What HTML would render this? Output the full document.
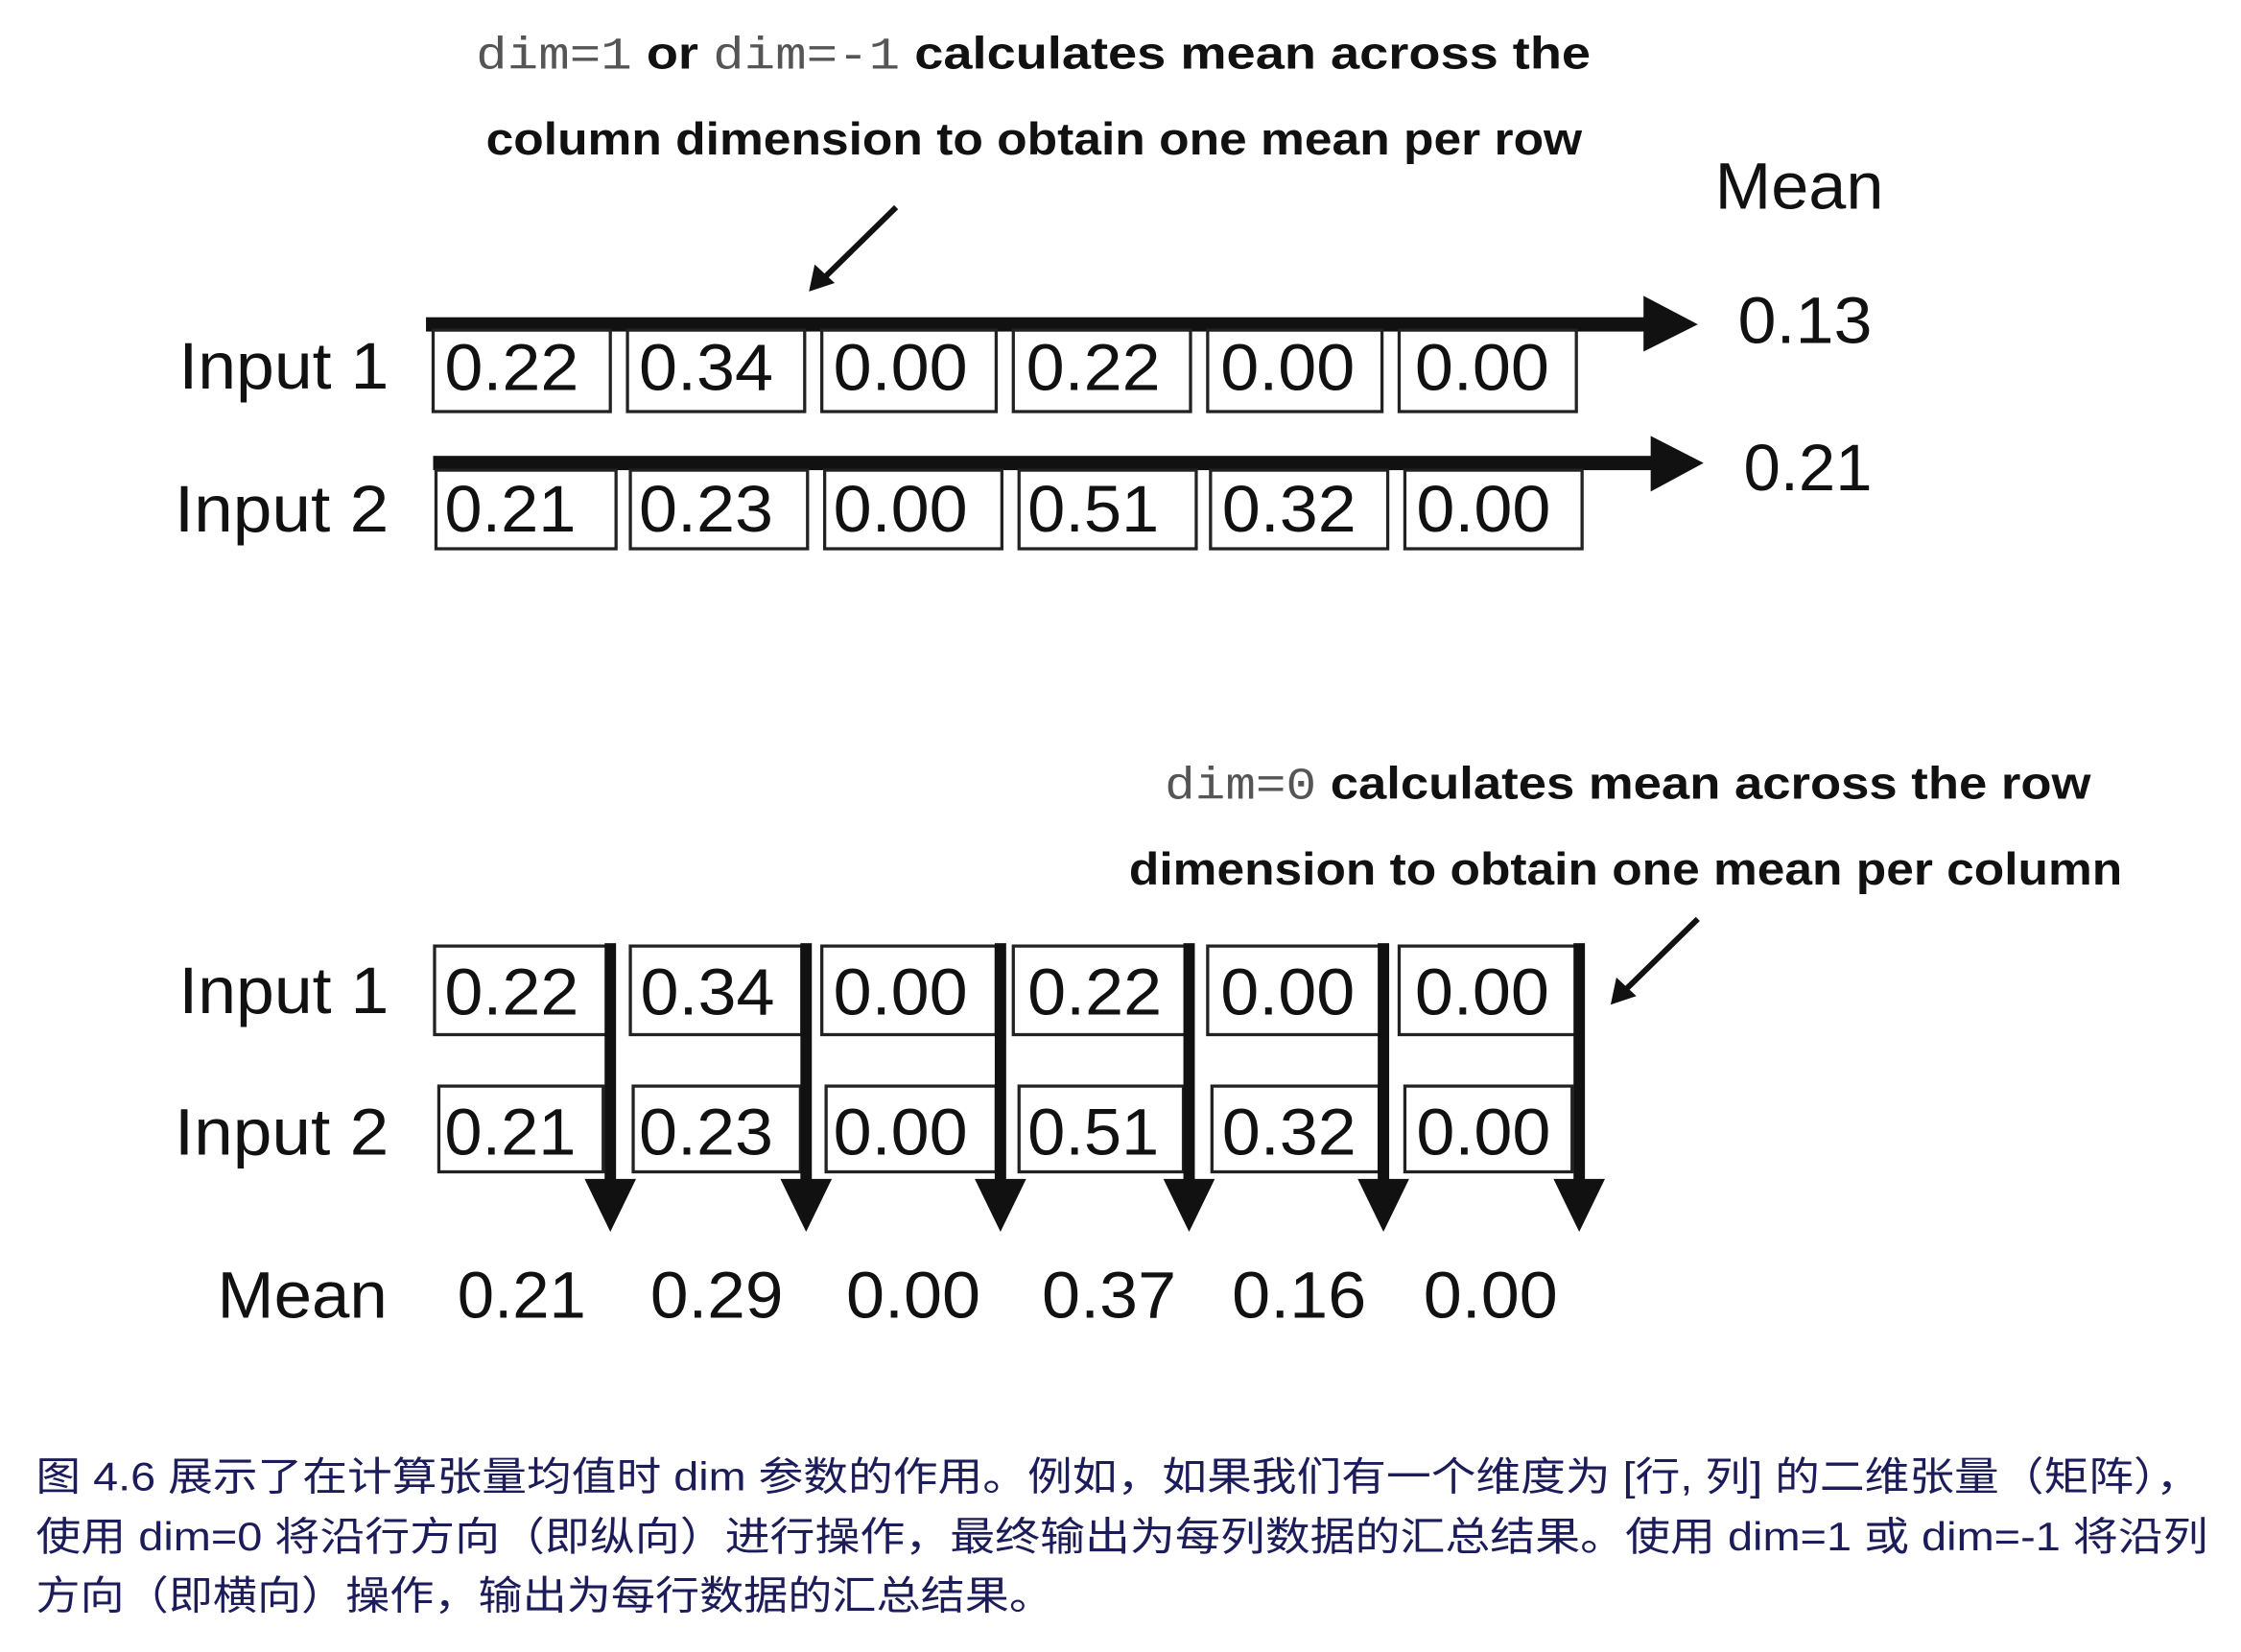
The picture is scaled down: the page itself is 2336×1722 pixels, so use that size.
<!DOCTYPE html>
<html><head><meta charset="utf-8"><style>
html,body{margin:0;padding:0;background:#fff;}
svg{display:block;}
.t{font-family:"Liberation Sans",sans-serif;font-size:46px;fill:#111;}
.h{font-family:"Liberation Sans",sans-serif;font-weight:bold;font-size:32px;fill:#111;}
.m{font-family:"Liberation Mono",monospace;font-weight:normal;fill:#555;}
.c{font-family:"Liberation Sans","Noto Sans CJK SC",sans-serif;font-size:28px;fill:#1c1c5a;}
rect.b{fill:#fff;stroke:#222;stroke-width:2.2;}
</style></head><body>
<svg width="2336" height="1722" viewBox="0 0 1568 1156" xmlns="http://www.w3.org/2000/svg">
<!-- top heading -->
<text class="h" x="333" y="48" textLength="780" lengthAdjust="spacingAndGlyphs"><tspan class="m">dim=1</tspan> or <tspan class="m">dim=-1</tspan> calculates mean across the</text>
<text class="h" x="340" y="108" textLength="767" lengthAdjust="spacingAndGlyphs">column dimension to obtain one mean per row</text>
<text class="t" x="1200" y="146" textLength="118" lengthAdjust="spacingAndGlyphs">Mean</text>
<line x1="627" y1="145" x2="575" y2="196" stroke="#111" stroke-width="4"/>
<polygon points="566,204 570,185 584,198" fill="#111"/>
<!-- row arrows -->
<rect x="298" y="222" width="854" height="10" fill="#111"/>
<polygon points="1150,207 1188,227 1150,246" fill="#111"/>
<text class="t" x="1216" y="240" textLength="94" lengthAdjust="spacingAndGlyphs">0.13</text>
<rect x="303" y="319" width="854" height="10" fill="#111"/>
<polygon points="1155,305 1192,324 1155,344" fill="#111"/>
<text class="t" x="1220" y="343" textLength="90" lengthAdjust="spacingAndGlyphs">0.21</text>
<text class="t" x="125" y="272" textLength="147" lengthAdjust="spacingAndGlyphs">Input 1</text>
<text class="t" x="122" y="372" textLength="150" lengthAdjust="spacingAndGlyphs">Input 2</text>
<g>
<rect class="b" x="303" y="231" width="124" height="57"/><text class="t" x="311" y="273" textLength="94" lengthAdjust="spacingAndGlyphs">0.22</text>
<rect class="b" x="439" y="231" width="124" height="57"/><text class="t" x="447" y="273" textLength="94" lengthAdjust="spacingAndGlyphs">0.34</text>
<rect class="b" x="575" y="231" width="122" height="57"/><text class="t" x="583" y="273" textLength="94" lengthAdjust="spacingAndGlyphs">0.00</text>
<rect class="b" x="709" y="231" width="124" height="57"/><text class="t" x="718" y="273" textLength="94" lengthAdjust="spacingAndGlyphs">0.22</text>
<rect class="b" x="845" y="231" width="122" height="57"/><text class="t" x="854" y="273" textLength="94" lengthAdjust="spacingAndGlyphs">0.00</text>
<rect class="b" x="979" y="231" width="124" height="57"/><text class="t" x="990" y="273" textLength="94" lengthAdjust="spacingAndGlyphs">0.00</text>
<rect class="b" x="305" y="329" width="126" height="55"/><text class="t" x="311" y="372" textLength="92" lengthAdjust="spacingAndGlyphs">0.21</text>
<rect class="b" x="441" y="329" width="124" height="55"/><text class="t" x="447" y="372" textLength="94" lengthAdjust="spacingAndGlyphs">0.23</text>
<rect class="b" x="577" y="329" width="124" height="55"/><text class="t" x="583" y="372" textLength="94" lengthAdjust="spacingAndGlyphs">0.00</text>
<rect class="b" x="713" y="329" width="124" height="55"/><text class="t" x="719" y="372" textLength="92" lengthAdjust="spacingAndGlyphs">0.51</text>
<rect class="b" x="847" y="329" width="124" height="55"/><text class="t" x="855" y="372" textLength="94" lengthAdjust="spacingAndGlyphs">0.32</text>
<rect class="b" x="983" y="329" width="124" height="55"/><text class="t" x="991" y="372" textLength="94" lengthAdjust="spacingAndGlyphs">0.00</text>
</g>
<!-- bottom heading -->
<text class="h" x="815" y="559" textLength="648" lengthAdjust="spacingAndGlyphs"><tspan class="m">dim=0</tspan> calculates mean across the row</text>
<text class="h" x="790" y="619" textLength="695" lengthAdjust="spacingAndGlyphs">dimension to obtain one mean per column</text>
<line x1="1188" y1="643" x2="1136" y2="694" stroke="#111" stroke-width="4"/>
<polygon points="1127,703 1131,684 1145,697" fill="#111"/>
<text class="t" x="125" y="709" textLength="147" lengthAdjust="spacingAndGlyphs">Input 1</text>
<text class="t" x="122" y="808" textLength="150" lengthAdjust="spacingAndGlyphs">Input 2</text>
<g>
<rect class="b" x="304" y="662" width="123" height="62"/><text class="t" x="311" y="710" textLength="94" lengthAdjust="spacingAndGlyphs">0.22</text>
<rect class="b" x="441" y="662" width="120" height="62"/><text class="t" x="448" y="710" textLength="94" lengthAdjust="spacingAndGlyphs">0.34</text>
<rect class="b" x="575" y="662" width="122" height="62"/><text class="t" x="583" y="710" textLength="94" lengthAdjust="spacingAndGlyphs">0.00</text>
<rect class="b" x="709" y="662" width="121" height="62"/><text class="t" x="719" y="710" textLength="94" lengthAdjust="spacingAndGlyphs">0.22</text>
<rect class="b" x="845" y="662" width="122" height="62"/><text class="t" x="854" y="710" textLength="94" lengthAdjust="spacingAndGlyphs">0.00</text>
<rect class="b" x="979" y="662" width="124" height="62"/><text class="t" x="990" y="710" textLength="94" lengthAdjust="spacingAndGlyphs">0.00</text>
<rect class="b" x="307" y="760" width="115" height="60"/><text class="t" x="311" y="808" textLength="92" lengthAdjust="spacingAndGlyphs">0.21</text>
<rect class="b" x="443" y="760" width="117" height="60"/><text class="t" x="447" y="808" textLength="94" lengthAdjust="spacingAndGlyphs">0.23</text>
<rect class="b" x="578" y="760" width="119" height="60"/><text class="t" x="583" y="808" textLength="94" lengthAdjust="spacingAndGlyphs">0.00</text>
<rect class="b" x="713" y="760" width="115" height="60"/><text class="t" x="719" y="808" textLength="92" lengthAdjust="spacingAndGlyphs">0.51</text>
<rect class="b" x="848" y="760" width="117" height="60"/><text class="t" x="855" y="808" textLength="94" lengthAdjust="spacingAndGlyphs">0.32</text>
<rect class="b" x="983" y="760" width="117" height="60"/><text class="t" x="991" y="808" textLength="94" lengthAdjust="spacingAndGlyphs">0.00</text>
</g>
<g fill="#111">
<rect x="423" y="660" width="8" height="168"/><polygon points="409,825 445,825 427,862"/>
<rect x="560" y="660" width="8" height="168"/><polygon points="546,825 582,825 564,862"/>
<rect x="696" y="660" width="8" height="168"/><polygon points="682,825 718,825 700,862"/>
<rect x="828" y="660" width="8" height="168"/><polygon points="814,825 850,825 832,862"/>
<rect x="964" y="660" width="8" height="168"/><polygon points="950,825 986,825 968,862"/>
<rect x="1101" y="660" width="8" height="168"/><polygon points="1087,825 1123,825 1105,862"/>
</g>
<text class="t" x="152" y="922" textLength="119" lengthAdjust="spacingAndGlyphs">Mean</text>
<text class="t" x="320" y="922" textLength="90" lengthAdjust="spacingAndGlyphs">0.21</text>
<text class="t" x="455" y="922" textLength="93" lengthAdjust="spacingAndGlyphs">0.29</text>
<text class="t" x="592" y="922" textLength="94" lengthAdjust="spacingAndGlyphs">0.00</text>
<text class="t" x="729" y="922" textLength="94" lengthAdjust="spacingAndGlyphs">0.37</text>
<text class="t" x="862" y="922" textLength="94" lengthAdjust="spacingAndGlyphs">0.16</text>
<text class="t" x="996" y="922" textLength="94" lengthAdjust="spacingAndGlyphs">0.00</text>
<!-- caption -->
<text class="c" x="25" y="1043" textLength="1515" lengthAdjust="spacingAndGlyphs">图 4.6 展示了在计算张量均值时 dim 参数的作用。例如，如果我们有一个维度为 [行, 列] 的二维张量（矩阵），</text>
<text class="c" x="25" y="1085" textLength="1520" lengthAdjust="spacingAndGlyphs">使用 dim=0 将沿行方向（即纵向）进行操作，最终输出为每列数据的汇总结果。使用 dim=1 或 dim=-1 将沿列</text>
<text class="c" x="25" y="1126" textLength="712" lengthAdjust="spacingAndGlyphs">方向（即横向）操作，输出为每行数据的汇总结果。</text>
</svg>
</body></html>
